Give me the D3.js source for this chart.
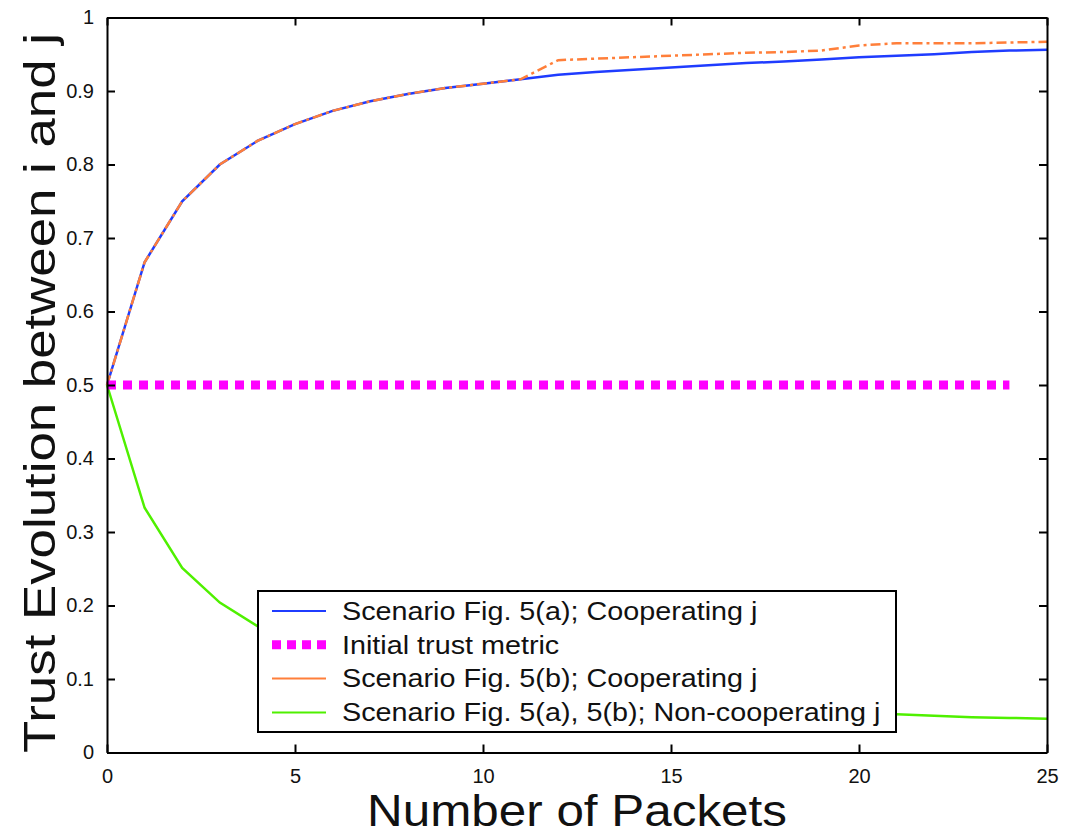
<!DOCTYPE html>
<html>
<head>
<meta charset="utf-8">
<script src="https://cdn.jsdelivr.net/npm/d3@7"></script>
<style>
  body { margin: 0; background: #fff; }
  svg { display: block; font-family: Arial, "Liberation Sans", sans-serif; }
</style>
</head>
<body>
<svg id="chart" width="1076" height="837"></svg>
<script>
// packets 0..25
const packets = d3.range(0, 26)

// values
const coopA = [0.5, 0.667, 0.75, 0.8, 0.832, 0.855, 0.873, 0.886, 0.896, 0.904, 0.91, 0.916,
    0.922, 0.926, 0.929, 0.932, 0.935, 0.938, 0.940, 0.943, 0.946, 0.948, 0.950, 0.953, 0.955, 0.956]
const coopB = [0.5, 0.667, 0.75, 0.8, 0.832, 0.855, 0.873, 0.886, 0.896, 0.904, 0.91, 0.916,
    0.942, 0.944, 0.946, 0.948, 0.950, 0.952, 0.953, 0.955, 0.962, 0.965, 0.965, 0.965, 0.966, 0.967]
const nonCoop = [0.5, 0.333, 0.251, 0.204, 0.172, 0.148, 0.129, 0.114, 0.102, 0.093, 0.086, 0.080,
    0.075, 0.070, 0.066, 0.063, 0.060, 0.058, 0.056, 0.054, 0.053, 0.052, 0.050, 0.048, 0.047, 0.046]
const initPackets = [0, 24]
const initTrust = [0.5, 0.5]

const xTicks = [0, 5, 10, 15, 20, 25]
const yTicks = [0, 0.1, 0.2, 0.3, 0.4, 0.5, 0.6, 0.7, 0.8, 0.9, 1]

const legendLabels = [
    "Scenario Fig. 5(a); Cooperating j",
    "Initial trust metric",
    "Scenario Fig. 5(b); Cooperating j",
    "Scenario Fig. 5(a), 5(b); Non-cooperating j"
]

const styles = [
    { color: "#1f3cff", width: 2.5, dash: null },
    { color: "#ff00ff", width: 9, dash: "9,7" },
    { color: "#ff7f3a", width: 2.5, dash: "10,4,3,4" },
    { color: "#4ff000", width: 2.5, dash: null }
]

const svg = d3.select("#chart")
const plot = { left: 107, right: 1047, top: 17.5, bottom: 752.5 }

const x = d3.scaleLinear().domain([0, 25]).range([plot.left, plot.right])
const y = d3.scaleLinear().domain([0, 1]).range([plot.bottom, plot.top])

const line = d3.line().x(d => x(d[0])).y(d => y(d[1]))

const series = [
    { pts: packets.map((p, i) => [p, coopA[i]]), s: styles[0] },
    { pts: packets.map((p, i) => [p, nonCoop[i]]), s: styles[3] },
    { pts: packets.map((p, i) => [p, coopB[i]]), s: styles[2] },
    { pts: initPackets.map((p, i) => [p, initTrust[i]]), s: styles[1] }
]

svg.append("g")
    .selectAll("path")
    .data(series)
    .join("path")
    .attr("d", d => line(d.pts))
    .attr("fill", "none")
    .attr("stroke", d => d.s.color)
    .attr("stroke-width", d => d.s.width)
    .attr("stroke-dasharray", d => d.s.dash)

// axes, ticks pointing inwards like the original
const tick = 8
svg.append("g")
    .attr("transform", "translate(0," + plot.bottom + ")")
    .call(d3.axisBottom(x).tickValues(xTicks).tickSizeInner(-tick).tickSizeOuter(0).tickPadding(16))
svg.append("g")
    .attr("transform", "translate(0," + plot.top + ")")
    .call(d3.axisTop(x).tickValues(xTicks).tickSizeInner(-tick).tickSizeOuter(0).tickFormat(""))
svg.append("g")
    .attr("transform", "translate(" + plot.left + ",0)")
    .call(d3.axisLeft(y).tickValues(yTicks).tickSizeInner(-tick).tickSizeOuter(0).tickPadding(13)
        .tickFormat(d => d === 0 || d === 1 ? d : d3.format(".1f")(d)))
svg.append("g")
    .attr("transform", "translate(" + plot.right + ",0)")
    .call(d3.axisRight(y).tickValues(yTicks).tickSizeInner(-tick).tickSizeOuter(0).tickFormat(""))

svg.selectAll(".domain").attr("stroke", "#000").attr("stroke-width", 2)
svg.selectAll(".tick line").attr("stroke", "#000").attr("stroke-width", 2)
svg.selectAll(".tick text").attr("font-size", 20).attr("fill", "#111")

// axis titles
svg.append("text")
    .attr("x", (plot.left + plot.right) / 2)
    .attr("y", 826)
    .attr("text-anchor", "middle")
    .attr("font-size", 44)
    .attr("textLength", 420)
    .attr("lengthAdjust", "spacingAndGlyphs")
    .attr("fill", "#111")
    .text("Number of Packets")

svg.append("text")
    .attr("transform", "translate(55," + ((plot.top + plot.bottom) / 2 + 8) + ") rotate(-90)")
    .attr("text-anchor", "middle")
    .attr("font-size", 44)
    .attr("textLength", 720)
    .attr("lengthAdjust", "spacingAndGlyphs")
    .attr("fill", "#111")
    .text("Trust Evolution between i and j")

// legend
const lg = svg.append("g")
lg.append("rect")
    .attr("x", 258).attr("y", 591)
    .attr("width", 638).attr("height", 141)
    .attr("fill", "#fff").attr("stroke", "#000").attr("stroke-width", 2)

const row = lg.selectAll("g.row")
    .data(legendLabels)
    .join("g")
    .attr("transform", (d, i) => "translate(0," + (611 + i * 33.8) + ")")

row.append("line")
    .attr("x1", 272).attr("x2", 326)
    .attr("stroke", (d, i) => styles[i].color)
    .attr("stroke-width", (d, i) => i === 1 ? 9 : 2)
    .attr("stroke-dasharray", (d, i) => i === 1 ? "9,6" : null)

// the original legend text is a little stretched sideways
row.append("text")
    .attr("transform", "translate(342,0) scale(1.15,1)")
    .attr("dy", "0.35em")
    .attr("font-size", 25)
    .attr("fill", "#111")
    .text(d => d)
</script>
</body>
</html>
